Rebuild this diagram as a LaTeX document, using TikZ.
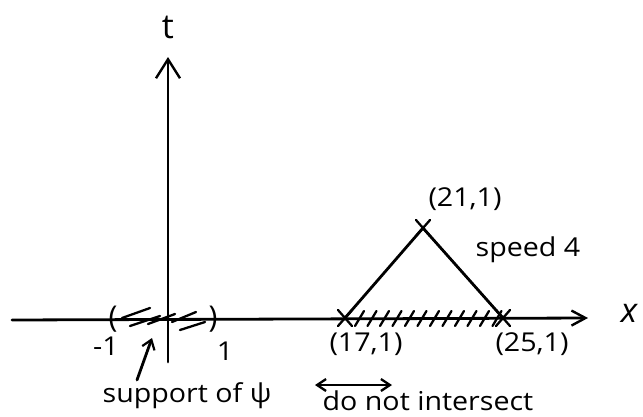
\documentclass[tikz,border=0pt]{standalone}
\usepackage{fontspec}
\setmainfont{Open Sans}
\usetikzlibrary{arrows.meta,calc}
\begin{document}
\begin{tikzpicture}[x=1pt,y=-1pt,
  pen/.style={line width=2.8pt,line cap=round,line join=round},
  thin pen/.style={line width=2.3pt,line cap=round},
  lab/.style={font=\fontsize{26}{28}\selectfont,inner sep=0pt,xscale=1.1,transform shape},
  big/.style={font=\fontsize{34}{36}\selectfont,inner sep=0pt},
  crossmark/.style={thin pen}]
\useasboundingbox (0,0) rectangle (643,416);
% named points
\coordinate (xs) at (12,320);
\coordinate (xe) at (588,318);
\coordinate (ts) at (168,362);
\coordinate (te) at (168,57);
\coordinate (A) at (345,318);
\coordinate (B) at (503,318);
\coordinate (P) at (423,228);
% axes
\draw[pen,-{Straight Barb[length=14pt,width=15pt,line width=2.4pt]}] (xs) -- (xe);
\draw[pen,-{Straight Barb[length=19pt,width=24pt,line width=2.4pt]}] (ts) -- (te);
\node[big,font=\fontsize{34}{36}\selectfont\itshape] (xl) at (629,313) {x};
\node[big] (tl) at (168,27) {t};
% support of psi
\node[big,font=\fontsize{30}{32}\selectfont] (lp) at (113,319) {(};
\node[big,font=\fontsize{30}{32}\selectfont] (rp) at (213,319) {)};
\draw[thin pen] (122,318) -- (150,308);
\draw[thin pen] (130,326) -- (160,316);
\draw[thin pen] (148,324) -- (175,314);
\draw[thin pen] (172,322) -- (196,312);
\draw[thin pen] (180,330) -- (205,322);
\node[lab] (m1) at (106,346) {-1};
\node[lab] (p1) at (225,351) {1};
\node[lab] (sup) at (187,396) {support of ψ};
\coordinate (st) at (137,380);
\coordinate (sh) at (152,338);
\draw[pen,-{Straight Barb[length=9pt,width=13pt,line width=2.2pt]}] (st) -- (sh);
% cone
\draw[pen] (A) -- (P) -- (B);
\foreach \p in {A,B,P}{
  \draw[crossmark] ($(\p)+(-7,-8)$) -- ($(\p)+(7,8)$);
  \draw[crossmark] ($(\p)+(-7,8)$) -- ($(\p)+(7,-8)$);
}
\foreach \i in {0,...,11}{
  \draw[thin pen] ({355+\i*12.5},326) -- ({364+\i*12.5},311);
}
\node[lab] (l21) at (465,199) {(21,1)};
\node[lab] (sp) at (528,250) {speed 4};
\node[lab] (l17) at (366,344) {(17,1)};
\node[lab] (l25) at (532,344) {(25,1)};
\coordinate (dl) at (315,385);
\coordinate (dr) at (392,385);
\draw[thin pen,{Straight Barb[length=9pt,width=12pt]}-{Straight Barb[length=9pt,width=12pt]}] (dl) -- (dr);
\node[lab] (dni) at (428,401) {do not intersect};
\end{tikzpicture}
\end{document}
